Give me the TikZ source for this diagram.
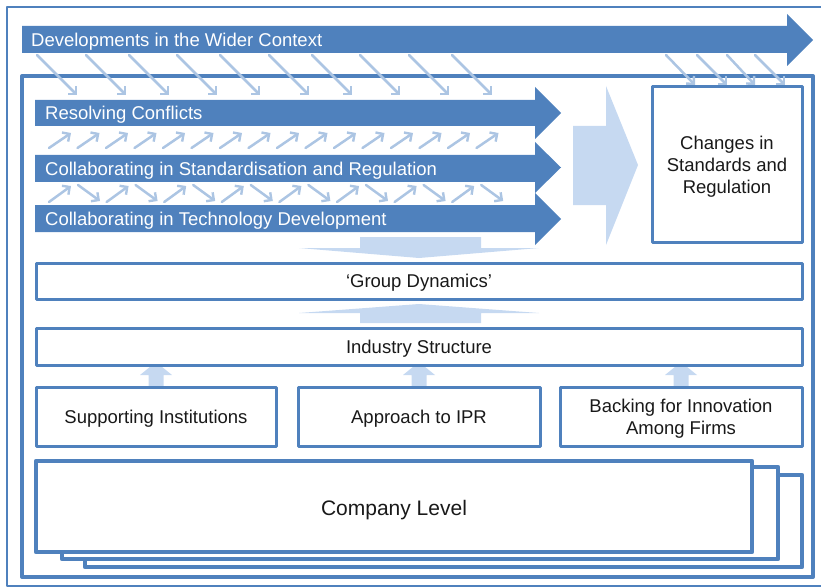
\documentclass[tikz,border=0pt]{standalone}
\usepackage{fontspec}
\setmainfont{Liberation Sans}
\usetikzlibrary{arrows.meta}
\definecolor{dblue}{RGB}{79,129,189}
\definecolor{lblue}{RGB}{198,217,241}
\definecolor{sblue}{RGB}{172,197,227}
\definecolor{txt}{RGB}{25,25,25}
\tikzset{
  darr/.style={fill=dblue, draw=none},
  larr/.style={fill=lblue, draw=none},
  sarr/.style={draw=sblue, line width=2.5pt, line cap=round, -{Straight Barb[length=5.5pt,width=11pt,line width=2.4pt]}},
  box/.style={draw=dblue, line width=3pt, fill=white, rectangle, inner sep=0pt, text=txt, font=\fontsize{18.5}{22}\selectfont, align=center, line join=round},
  cbox/.style={draw=dblue, line width=4.5pt, fill=white, line join=round},
  wlabel/.style={anchor=west, inner sep=0pt, text=white, font=\fontsize{18.5}{22}\selectfont},
  tlabel/.style={inner sep=0pt, text=txt, font=\fontsize{18.5}{22}\selectfont, align=center}
}
\begin{document}
\begin{tikzpicture}[x=1pt,y=-1pt]
\useasboundingbox (0,0) rectangle (821,588);
% outer frame
\draw[dblue, line width=1.8pt, line join=round] (7,7) rectangle (840,586);
% inner frame
\draw[dblue, line width=4pt, line join=round] (22,76) rectangle (813,577);
% dark arrows
\fill[darr] (22,26) -- (787,26) -- (787,14) -- (813,40) -- (787,66) -- (787,53) -- (22,53) -- cycle;
\fill[darr] (35,100) -- (535,100) -- (535,87) -- (561,113) -- (535,139) -- (535,126) -- (35,126) -- cycle;
\fill[darr] (35,155) -- (535,155) -- (535,142) -- (561,167.5) -- (535,193) -- (535,182) -- (35,182) -- cycle;
\fill[darr] (35,205) -- (535,205) -- (535,193) -- (561,219) -- (535,245) -- (535,232) -- (35,232) -- cycle;
\node[wlabel] (dev) at (31,42) {Developments in the Wider Context};
\node[wlabel] (res) at (45,115) {Resolving Conflicts};
\node[wlabel] (std) at (45,170.5) {Collaborating in Standardisation and Regulation};
\node[wlabel] (tec) at (45,220.5) {Collaborating in Technology Development};
% big light arrows
\fill[larr] (573,126) -- (606,126) -- (606,86) -- (638,165) -- (606,245) -- (606,205) -- (573,205) -- cycle;
\fill[larr] (360,237) -- (481,237) -- (481,248) -- (539,248) -- (419,258) -- (299,248) -- (360,248) -- cycle;
\fill[larr] (360,323) -- (481,323) -- (481,313) -- (539,313) -- (419,304) -- (299,313) -- (360,313) -- cycle;
\foreach \cx in {156,419,681}{
  \fill[larr] (\cx-7.5,388) -- (\cx+7.5,388) -- (\cx+7.5,375) -- (\cx+16,375) -- (\cx,362) -- (\cx-16,375) -- (\cx-7.5,375) -- cycle;
}
% small arrows from Developments
\foreach \sx in {37,86,129,177,220,269,312,360,409,452}{
  \coordinate (a\sx) at (\sx,55);
  \coordinate (b\sx) at (\sx+40,95);
  \draw[sarr] (a\sx) -- (b\sx);
}
\foreach \sx/\ex in {666/695,697/727,727/755,755/785}{
  \coordinate (c\sx) at (\sx,55);
  \coordinate (d\sx) at (\ex,85);
  \draw[sarr] (c\sx) -- (d\sx);
}
% between Resolving and Standardisation
\foreach \k in {0,...,15}{
  \coordinate (e\k) at ({49+28.5*\k},148);
  \coordinate (f\k) at ({71+28.5*\k},133);
  \draw[sarr] (e\k) -- (f\k);
}
% between Standardisation and Technology
\foreach \k in {0,...,7}{
  \coordinate (g\k) at ({49+57.6*\k},202);
  \coordinate (h\k) at ({71+57.6*\k},186);
  \draw[sarr] (g\k) -- (h\k);
  \coordinate (i\k) at ({78+57.6*\k},185);
  \coordinate (j\k) at ({100+57.6*\k},201);
  \draw[sarr] (i\k) -- (j\k);
}
% boxes
\node[box, minimum width=150pt, minimum height=155pt] (chg) at (727,164.5) {};
\node[tlabel] (chgt) at (727,166.5) {Changes in\\Standards and\\Regulation};
\node[box, minimum width=766pt, minimum height=36pt] (gd) at (419,281) {};
\node[tlabel] (gdt) at (419,283) {‘Group Dynamics’};
\node[box, minimum width=766pt, minimum height=37pt] (ind) at (419,346.5) {};
\node[tlabel] (indt) at (419,348.5) {Industry Structure};
\node[box, minimum width=240pt, minimum height=59pt] (sup) at (156,416.5) {};
\node[tlabel] (supt) at (156,418.5) {Supporting Institutions};
\node[box, minimum width=242pt, minimum height=59pt] (ipr) at (419,416.5) {};
\node[tlabel] (iprt) at (419,418.5) {Approach to IPR};
\node[box, minimum width=242pt, minimum height=59pt] (bak) at (681,416.5) {};
\node[tlabel] (bakt) at (681,418.5) {Backing for Innovation\\Among Firms};
% company level stack
\draw[cbox] (85,475) rectangle (802,567);
\draw[cbox] (62,467) rectangle (778,559);
\draw[cbox] (36,461) rectangle (752,552);
\node[inner sep=0pt, text=txt, font=\fontsize{21}{25}\selectfont] (com) at (394,510) {Company Level};
\end{tikzpicture}
\end{document}
